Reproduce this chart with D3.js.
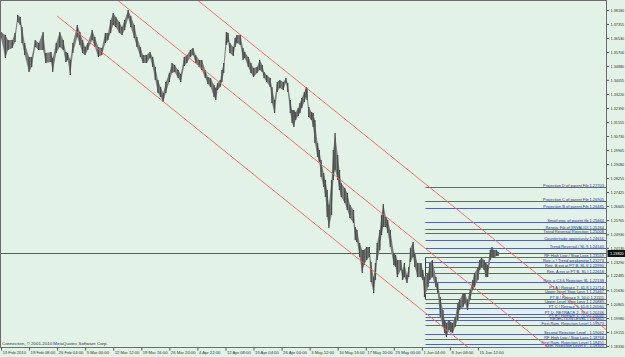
<!DOCTYPE html>
<html>
<head>
<meta charset="utf-8">
<script src="https://cdn.jsdelivr.net/npm/d3@7"></script>
<style>
  body { margin: 0; background: #e2f2e6; }
  svg { display: block; font-family: "Liberation Sans", Arial, sans-serif; }
</style>
</head>
<body>
<svg id="chart"></svg>
<script>
// ---------------------------------------------------------------------------
// Data (EURUSD-like, H4 bars, Feb - Jun 2010)
// ---------------------------------------------------------------------------

// price axis labels
const priceTicks = [1.38180, 1.37355, 1.36530, 1.35700, 1.34880, 1.34055, 1.33220,
  1.32390, 1.31555, 1.30730, 1.29905, 1.29080, 1.28255, 1.27425, 1.26605, 1.25765,
  1.24930, 1.24130, 1.23290, 1.22485, 1.21630, 1.20805, 1.19980, 1.19155, 1.18330];

// time axis labels, one every 32 bars
const dateLabels = ["13 Feb 2010", "19 Feb 08:00", "26 Feb 04:00", "5 Mar 00:00",
  "12 Mar 12:00", "19 Mar 16:00", "26 Mar 20:00", "4 Apr 22:00", "12 Apr 08:00",
  "19 Apr 04:00", "26 Apr 00:00", "3 May 12:00", "10 May 16:00", "17 May 20:00",
  "25 May 00:00", "1 Jun 04:00", "8 Jun 08:00", "15 Jun 12:00"];
const dateStep = 32;

// [bar index, high, low]
const bars = [
  [0, 1.3688, 1.3653], [5, 1.3670, 1.3534], [8, 1.3641, 1.3582], [13, 1.3641, 1.3594],
  [16, 1.3682, 1.3629], [19, 1.3788, 1.3747], [22, 1.3777, 1.3729], [24, 1.3718, 1.3623],
  [27, 1.3623, 1.3552], [32, 1.3540, 1.3452], [35, 1.3540, 1.3481], [39, 1.3641, 1.3599],
  [43, 1.3623, 1.3582], [48, 1.3688, 1.3582], [51, 1.3564, 1.3505], [57, 1.3570, 1.3511],
  [59, 1.3534, 1.3452], [63, 1.3623, 1.3564], [67, 1.3688, 1.3599], [71, 1.3641, 1.3582],
  [74, 1.3570, 1.3511], [76, 1.3564, 1.3523], [79, 1.3523, 1.3434], [82, 1.3623, 1.3564],
  [87, 1.3729, 1.3659], [90, 1.3688, 1.3611], [93, 1.3641, 1.3564], [96, 1.3599, 1.3552],
  [99, 1.3623, 1.3582], [104, 1.3700, 1.3641], [107, 1.3659, 1.3599], [111, 1.3599, 1.3540],
  [115, 1.3594, 1.3552], [119, 1.3682, 1.3623], [122, 1.3682, 1.3641], [125, 1.3759, 1.3682],
  [128, 1.3800, 1.3729], [131, 1.3777, 1.3718], [135, 1.3747, 1.3682], [138, 1.3718, 1.3670],
  [141, 1.3759, 1.3700], [145, 1.3818, 1.3771], [148, 1.3783, 1.3718], [152, 1.3729, 1.3653],
  [155, 1.3659, 1.3599], [159, 1.3599, 1.3540], [162, 1.3552, 1.3505], [166, 1.3552, 1.3505],
  [170, 1.3570, 1.3534], [173, 1.3540, 1.3481], [176, 1.3481, 1.3404], [179, 1.3404, 1.3328],
  [182, 1.3363, 1.3304], [185, 1.3328, 1.3275], [188, 1.3393, 1.3328], [192, 1.3446, 1.3393],
  [195, 1.3505, 1.3446], [198, 1.3493, 1.3452], [202, 1.3464, 1.3416], [205, 1.3440, 1.3393],
  [209, 1.3540, 1.3487], [212, 1.3552, 1.3505], [216, 1.3582, 1.3540], [219, 1.3594, 1.3552],
  [222, 1.3552, 1.3505], [226, 1.3523, 1.3481], [229, 1.3523, 1.3464], [233, 1.3464, 1.3416],
  [236, 1.3422, 1.3381], [239, 1.3416, 1.3363], [243, 1.3375, 1.3304], [245, 1.3357, 1.3286],
  [247, 1.3387, 1.3345], [250, 1.3404, 1.3363], [252, 1.3464, 1.3393], [254, 1.3505, 1.3446],
  [257, 1.3688, 1.3611], [259, 1.3682, 1.3629], [261, 1.3623, 1.3564], [265, 1.3599, 1.3546],
  [267, 1.3653, 1.3599], [269, 1.3670, 1.3623], [273, 1.3670, 1.3611], [276, 1.3594, 1.3523],
  [278, 1.3570, 1.3534], [282, 1.3540, 1.3481], [285, 1.3505, 1.3446], [288, 1.3475, 1.3422],
  [292, 1.3481, 1.3446], [295, 1.3523, 1.3464], [298, 1.3493, 1.3452], [300, 1.3452, 1.3416],
  [303, 1.3434, 1.3393], [307, 1.3416, 1.3363], [309, 1.3363, 1.3269], [312, 1.3286, 1.3210],
  [315, 1.3393, 1.3334], [318, 1.3404, 1.3357], [322, 1.3393, 1.3345], [325, 1.3416, 1.3387],
  [327, 1.3387, 1.3334], [330, 1.3286, 1.3210], [332, 1.3227, 1.3150], [334, 1.3227, 1.3127],
  [336, 1.3215, 1.3168], [339, 1.3239, 1.3192], [341, 1.3269, 1.3210], [343, 1.3298, 1.3239],
  [346, 1.3334, 1.3275], [348, 1.3363, 1.3304], [349, 1.3357, 1.3286], [351, 1.3245, 1.3186],
  [354, 1.3215, 1.3168], [356, 1.3210, 1.3127], [358, 1.3168, 1.3032], [361, 1.3032, 1.2950],
  [363, 1.2991, 1.2920], [365, 1.2932, 1.2831], [368, 1.2855, 1.2772], [370, 1.2814, 1.2713],
  [372, 1.2755, 1.2595], [374, 1.2666, 1.2530], [377, 1.2814, 1.2607], [379, 1.2991, 1.2814],
  [381, 1.3091, 1.2873], [384, 1.2961, 1.2814], [386, 1.2873, 1.2755], [388, 1.2796, 1.2713],
  [392, 1.2766, 1.2678], [395, 1.2737, 1.2637], [398, 1.2666, 1.2589], [402, 1.2637, 1.2560],
  [404, 1.2536, 1.2459], [406, 1.2518, 1.2447], [409, 1.2442, 1.2359], [412, 1.2400, 1.2264],
  [414, 1.2400, 1.2312], [417, 1.2418, 1.2341], [420, 1.2418, 1.2359], [422, 1.2329, 1.2211],
  [425, 1.2241, 1.2146], [427, 1.2323, 1.2223], [429, 1.2442, 1.2341], [432, 1.2518, 1.2400],
  [434, 1.2607, 1.2489], [436, 1.2672, 1.2536], [439, 1.2595, 1.2536], [441, 1.2577, 1.2501],
  [444, 1.2518, 1.2418], [448, 1.2382, 1.2312], [450, 1.2371, 1.2300], [452, 1.2341, 1.2241],
  [456, 1.2341, 1.2282], [458, 1.2282, 1.2223], [460, 1.2323, 1.2241], [463, 1.2252, 1.2205],
  [465, 1.2300, 1.2241], [467, 1.2412, 1.2329], [470, 1.2447, 1.2359], [472, 1.2382, 1.2300],
  [475, 1.2323, 1.2241], [479, 1.2323, 1.2241], [481, 1.2282, 1.2223], [483, 1.2241, 1.2123],
  [487, 1.2264, 1.2182], [489, 1.2323, 1.2223], [492, 1.2341, 1.2241], [496, 1.2241, 1.2182],
  [498, 1.2205, 1.2146], [501, 1.2123, 1.2004], [504, 1.2046, 1.1945], [506, 1.1987, 1.1910],
  [508, 1.1969, 1.1886], [511, 1.1987, 1.1928], [513, 1.1975, 1.1916], [515, 1.1969, 1.1910],
  [518, 1.2004, 1.1945], [521, 1.2087, 1.1987], [523, 1.2105, 1.2046], [527, 1.2146, 1.2063],
  [529, 1.2146, 1.2087], [532, 1.2105, 1.2046], [535, 1.2164, 1.2105], [538, 1.2223, 1.2164],
  [540, 1.2264, 1.2182], [544, 1.2300, 1.2223], [546, 1.2341, 1.2282], [548, 1.2353, 1.2300],
  [551, 1.2341, 1.2282], [553, 1.2323, 1.2241], [555, 1.2312, 1.2241], [558, 1.2400, 1.2341],
  [560, 1.2418, 1.2359], [562, 1.2400, 1.2353], [565, 1.2400, 1.2365], [567, 1.2388, 1.2365]
];
const lastPrice = 1.23820;

// regression channel: middle line through two points, half width in price
const channelBars = [64, 569];
const channelMid = [1.41636, 1.20546];
const channelHalf = 0.0381;

// fibo / level lines starting at this bar
const levelStartBar = 483;
const levelBoxLow = 1.21111;
const levelNames = [
  "Projection D of parent Fib", "Projection C of parent Fib", "Projection B of parent Fib",
  "Small proj. of parent fib", "Renew. Fib of [INVALID]", "Trend Reversal Rejection",
  "Countertrade opportunity", "Trend Reversal / SL II", "RF High Low / Stop Loss",
  "Retr. c / Trend weakening", "Retr. B ext at PT B, SL II", "Retr. A ext at PT B, SL I",
  "Retr. a C3.6 Rejection SL", "PT A / Retrace 7, 61.8", "Upper Level Stop Loss 1",
  "PT B / Retrace 9, 50.0", "Upper Level Stop Loss 1", "PT C / Retrace 9, 61.8",
  "PT D, RETRACE 2, 78.6", "PT E / Retrace 1, 71.6", "REJECTION LEVEL I",
  "First Ram. Rejection Level", "Second Rejection Level -", "RF High Low / Stop Loss",
  "First Ram. Rejection Level", "Sem. Rejection Level II -"
];
const levelPrices = [
  1.27703, 1.26905, 1.26485, 1.25664, 1.25264, 1.25008, 1.24616, 1.24140, 1.23559,
  1.23273, 1.22990, 1.22618, 1.22138, 1.21714, 1.21467, 1.21111, 1.20889, 1.20560,
  1.20246, 1.20040, 1.19865, 1.19573, 1.19062, 1.18768, 1.18451, 1.18300
];

// ---------------------------------------------------------------------------
// Layout
// ---------------------------------------------------------------------------
const W = 625, H = 357;
const plot = { left: 0.5, top: 0.5, right: 606.5, bottom: 347.5 };
const font = '"Liberation Sans", Arial, sans-serif';

const svg = d3.select('#chart').attr('width', W).attr('height', H);

svg.append('rect')
  .attr('width', W).attr('height', H)
  .attr('fill', '#e2f2e6');

const x = d3.scaleLinear().domain([0, dateStep * 17]).range([1, 478]);
const y = d3.scaleLinear().domain([1.18330, 1.38180]).range([346, 10]);

svg.append('clipPath').attr('id', 'plotClip')
  .append('rect')
  .attr('x', plot.left).attr('y', plot.top)
  .attr('width', plot.right - plot.left).attr('height', plot.bottom - plot.top);

const g = svg.append('g').attr('clip-path', 'url(#plotClip)');

// level lines (drawn under the price)
const levelX0 = Math.round(x(levelStartBar)) + 0.5;
const levels = g.append('g').attr('class', 'levels');
levelPrices.forEach((p, i) => {
  const yy = Math.round(y(p)) + 0.5;
  levels.append('line')
    .attr('x1', levelX0).attr('x2', plot.right)
    .attr('y1', yy).attr('y2', yy)
    .attr('stroke', '#5563aa').attr('stroke-width', 1);
  levels.append('text')
    .attr('x', 604).attr('y', yy - 1)
    .attr('text-anchor', 'end')
    .attr('font-size', 4)
    .attr('fill', '#27348b')
    .text(`${levelNames[i]}  ${p.toFixed(5)}`);
});

// box edge of the level tool
levels.append('line')
  .attr('x1', levelX0).attr('x2', levelX0)
  .attr('y1', Math.round(y(levelPrices[8])) + 0.5)
  .attr('y2', Math.round(y(levelBoxLow)) + 0.5)
  .attr('stroke', '#3c3f3c');

// current price line
const yLast = Math.round(y(lastPrice)) + 0.5;
g.append('line')
  .attr('x1', plot.left).attr('x2', plot.right)
  .attr('y1', yLast).attr('y2', yLast)
  .attr('stroke', '#5a5d5a').attr('stroke-width', 1);

// price bars
const area = d3.area()
  .x(d => x(d[0]))
  .y0(d => y(d[2]))
  .y1(d => y(d[1]));

g.append('path')
  .datum(bars)
  .attr('d', area)
  .attr('fill', '#7a7e7a');

g.append('g').attr('class', 'bars')
  .selectAll('line')
  .data(bars)
  .join('line')
  .attr('x1', d => x(d[0])).attr('x2', d => x(d[0]))
  .attr('y1', d => y(d[1])).attr('y2', d => y(d[2]))
  .attr('stroke', '#4a4d4a')
  .attr('stroke-width', 1.3);

// channel lines
const slope = (channelMid[1] - channelMid[0]) / (channelBars[1] - channelBars[0]);
const endBar = x.invert(plot.right);
[-channelHalf, 0, channelHalf].forEach(off => {
  g.append('line')
    .attr('x1', x(channelBars[0]))
    .attr('y1', y(channelMid[0] + off))
    .attr('x2', x(endBar))
    .attr('y2', y(channelMid[0] + slope * (endBar - channelBars[0]) + off))
    .attr('stroke', '#f06464')
    .attr('stroke-width', 0.9);
});

// frame
svg.append('rect')
  .attr('x', plot.left).attr('y', plot.top)
  .attr('width', plot.right - plot.left).attr('height', plot.bottom - plot.top)
  .attr('fill', 'none')
  .attr('stroke', '#6a6d6a');

// price axis
const yAxis = d3.axisRight(y)
  .tickValues(priceTicks)
  .tickFormat(d3.format('.5f'))
  .tickSize(2.5)
  .tickPadding(1.5);

svg.append('g')
  .attr('transform', `translate(${plot.right},0)`)
  .call(yAxis)
  .call(a => a.select('.domain').remove())
  .call(a => a.selectAll('line').attr('stroke', '#555'))
  .call(a => a.selectAll('text')
    .attr('font-size', 3.8)
    .attr('font-family', font)
    .attr('fill', '#333'));

// current price marker on the axis
const marker = svg.append('g').attr('transform', `translate(${plot.right},${yLast})`);
marker.append('rect')
  .attr('x', 1).attr('y', -3.5)
  .attr('width', 18).attr('height', 7)
  .attr('fill', '#111');
marker.append('text')
  .attr('x', 3.5).attr('y', 1.4)
  .attr('font-size', 3.8)
  .attr('font-family', font)
  .attr('fill', '#fff')
  .text(lastPrice.toFixed(5));

// time axis
const xAxis = d3.axisBottom(x)
  .tickValues(d3.range(0, dateStep * dateLabels.length, dateStep))
  .tickFormat((d, i) => dateLabels[i])
  .tickSize(3)
  .tickPadding(0.5);

svg.append('g')
  .attr('transform', `translate(0,${plot.bottom})`)
  .call(xAxis)
  .call(a => a.select('.domain').remove())
  .call(a => a.selectAll('line').attr('stroke', '#555'))
  .call(a => a.selectAll('text')
    .attr('text-anchor', 'start')
    .attr('dx', 1)
    .attr('font-size', 4.2)
    .attr('font-family', font)
    .attr('fill', '#333'));

// copyright line
svg.append('text')
  .attr('x', 2).attr('y', 345)
  .attr('font-size', 4.4)
  .attr('fill', '#333')
  .text('Connection, \u00a9 2001-2010 MetaQuotes Software Corp.');
</script>
</body>
</html>
